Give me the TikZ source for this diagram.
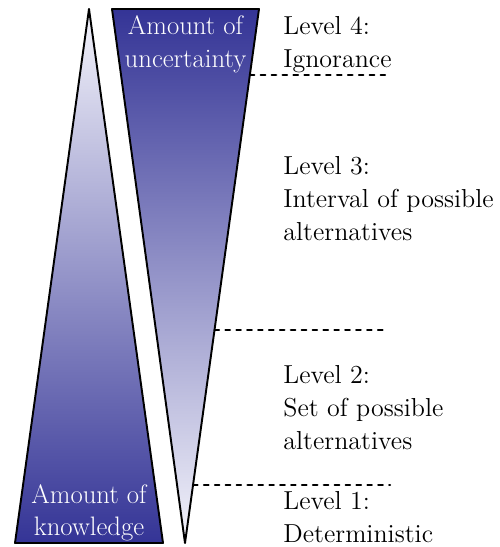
\documentclass[tikz,border=0pt]{standalone}
\usetikzlibrary{calc}
\usepackage{tkz-euclide}
\definecolor{DeepClr}{RGB}{52,52,150}
\definecolor{PaleClr}{RGB}{244,244,251}

\tikzset{
  levellabel/.style={anchor=west,align=left,inner sep=0pt,
    font=\fontsize{14.8}{19}\selectfont},
  amountlabel/.style={align=center,inner sep=0pt,text=white,
    font=\fontsize{15.2}{18.5}\selectfont}
}

\begin{document}
\begin{tikzpicture}
\useasboundingbox (0,0) rectangle (10,10.94);
\tkzSetUpLine[line width=1.1pt,color=black]

\tkzDefPoints{0.3/0.08/A,3.26/0.08/B,1.78/10.76/C}
\tkzDefPoints{2.24/10.76/D,5.18/10.76/E,3.7/0.08/F}
\tkzDefPoints{0/9.44/L4,7.7/9.44/R4,0/4.34/L3,7.7/4.34/R3,0/1.24/L2,7.8/1.24/R2}

\tkzInterLL(L4,R4)(E,F) \tkzGetPoint{S4}
\tkzInterLL(L3,R3)(E,F) \tkzGetPoint{S3}
\tkzInterLL(L2,R2)(E,F) \tkzGetPoint{S2}

\shade[top color=PaleClr,bottom color=DeepClr] (A)--(B)--(C)--cycle;
\shade[top color=DeepClr,bottom color=PaleClr] (D)--(E)--(F)--cycle;

\tkzDrawPolygon(A,B,C)
\tkzDrawPolygon(D,E,F)

\tkzDrawSegments[line width=1.2pt,dash pattern=on 2.6pt off 3.6pt](S4,R4 S3,R3 S2,R2)

\node[amountlabel] (uncert) at (3.71,10.05) {Amount of\\uncertainty};
\node[amountlabel] (know) at (1.78,0.68) {Amount of\\knowledge};

\node[levellabel] (lvl4) at (5.66,10.05) {Level 4:\\Ignorance};
\node[levellabel] (lvl3) at (5.66,6.97) {Level 3:\\Interval of possible\\alternatives};
\node[levellabel] (lvl2) at (5.66,2.79) {Level 2:\\Set of possible\\alternatives};
\node[levellabel] (lvl1) at (5.66,0.6) {Level 1:\\Deterministic};

\end{tikzpicture}
\end{document}
